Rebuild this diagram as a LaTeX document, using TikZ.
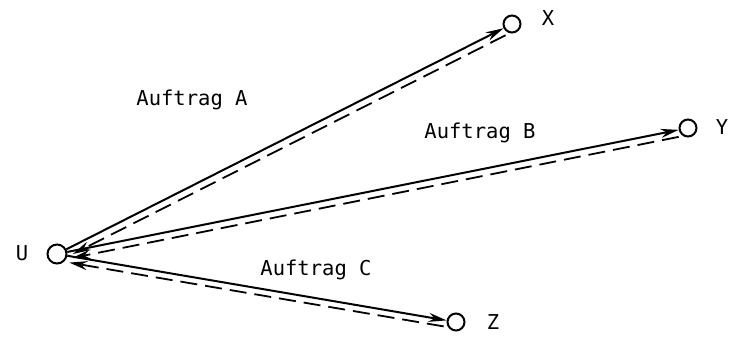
\documentclass[tikz,border=0pt]{standalone}
\usepackage{fontspec}
\setmainfont{DejaVu Sans Mono}
\usetikzlibrary{arrows.meta,calc}
\begin{document}
\begin{tikzpicture}[x=1pt,y=-1pt,
  pt/.style={circle,draw,line width=2pt,minimum size=17pt,inner sep=0pt,fill=white},
  lbl/.style={font=\fontsize{20.5}{24}\selectfont},
  go/.style={line width=2pt,-{Stealth[length=18pt,width=9pt]},shorten >=0pt},
  back/.style={line width=1.8pt,dash pattern=on 17pt off 8pt,-{Stealth[length=18pt,width=9pt]},shorten >=5pt}]
\useasboundingbox (0,0) rectangle (731,337);
\node[pt,minimum size=19pt] (U) at (57,254) {};
\node[pt] (X) at (512,24) {};
\node[pt] (Y) at (688,128) {};
\node[pt] (Z) at (456,322) {};
\node[lbl] (lU) at (22,253) {U};
\node[lbl] (lX) at (548,18) {X};
\node[lbl] (lY) at (722,127) {Y};
\node[lbl] (lZ) at (493,322) {Z};
\node[lbl] (lA) at (192,100) {Auftrag A};
\node[lbl] (lB) at (480,133) {Auftrag B};
\node[lbl] (lC) at (316,270) {Auftrag C};
\draw[go] (U) -- (X);
\draw[go] (U) -- (Y);
\draw[go] (U) -- (Z);
\begin{scope}[transform canvas={xshift=2pt,yshift=-7pt}]
\draw[back] (X) -- (U);
\end{scope}
\begin{scope}[transform canvas={yshift=-7pt}]
\draw[back] (Y) -- (U);
\end{scope}
\begin{scope}[transform canvas={xshift=-3pt,yshift=-6pt}]
\draw[back] (Z) -- (U);
\end{scope}
\end{tikzpicture}
\end{document}
